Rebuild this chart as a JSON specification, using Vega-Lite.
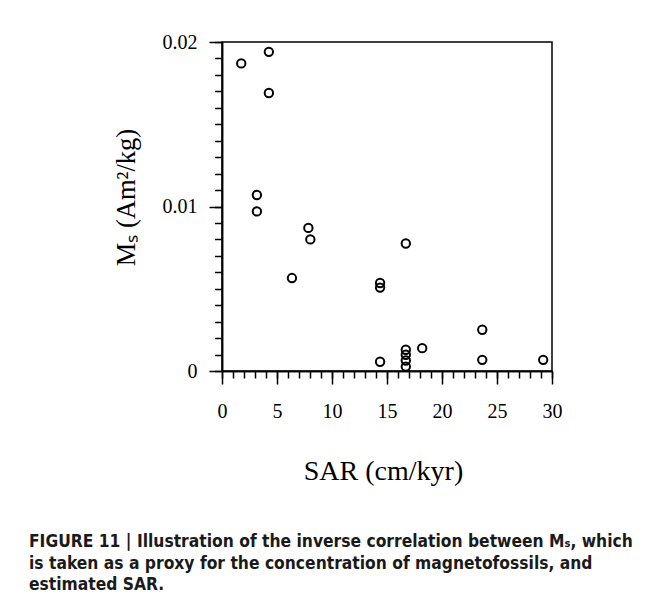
{
  "$schema": "https://vega.github.io/schema/vega-lite/v6.json",
  "width": 330,
  "height": 329,
  "autosize": {"type": "none"},
  "padding": {"left": 222, "top": 42, "right": 105, "bottom": 231},
  "background": "white",
  "config": {
    "view": {"stroke": "black", "strokeWidth": 1.5},
    "font": "Liberation Serif",
    "axis": {
      "grid": false,
      "domainColor": "black",
      "domainWidth": 1.5,
      "tickColor": "black",
      "tickWidth": 1.5,
      "labelFont": "Liberation Serif",
      "labelFontSize": 20,
      "labelColor": "black",
      "labelFlush": false,
      "labelOverlap": false,
      "titleFont": "Liberation Serif",
      "titleFontWeight": "normal",
      "titleColor": "black"
    }
  },
  "title": {
    "text": [
      "FIGURE 11 | Illustration of the inverse correlation between Mₛ, which",
      "is taken as a proxy for the concentration of magnetofossils, and",
      "estimated SAR."
    ],
    "orient": "bottom",
    "anchor": "start",
    "frame": "group",
    "dx": -193,
    "offset": 48,
    "font": "Liberation Sans Narrow, DejaVu Sans Condensed, Roboto Condensed, Arial Narrow, Liberation Sans",
    "fontSize": 17.3,
    "fontWeight": "bold",
    "lineHeight": 21.5,
    "color": "#1a1a1a"
  },
  "data": {
    "values": [
      {"sar": 1.75, "ms": 0.0187},
      {"sar": 4.26, "ms": 0.0194},
      {"sar": 4.26, "ms": 0.0169},
      {"sar": 3.17, "ms": 0.0107},
      {"sar": 3.17, "ms": 0.0097},
      {"sar": 7.85, "ms": 0.0087},
      {"sar": 8.03, "ms": 0.0080},
      {"sar": 6.36, "ms": 0.00565},
      {"sar": 16.71, "ms": 0.00775},
      {"sar": 14.37, "ms": 0.00535},
      {"sar": 14.37, "ms": 0.00507},
      {"sar": 14.37, "ms": 0.00056},
      {"sar": 16.71, "ms": 0.00129},
      {"sar": 16.71, "ms": 0.00099},
      {"sar": 16.71, "ms": 0.00064},
      {"sar": 16.71, "ms": 0.00027},
      {"sar": 18.2, "ms": 0.00139},
      {"sar": 23.66, "ms": 0.00251},
      {"sar": 23.66, "ms": 0.00068},
      {"sar": 29.2, "ms": 0.00068}
    ]
  },
  "resolve": {"axis": {"x": "independent", "y": "independent"}},
  "layer": [
    {
      "mark": {
        "type": "point",
        "shape": "circle",
        "filled": false,
        "stroke": "black",
        "strokeWidth": 2,
        "size": 70,
        "opacity": 1
      },
      "encoding": {
        "x": {
          "field": "sar",
          "type": "quantitative",
          "scale": {"domain": [0, 30], "nice": false, "zero": false},
          "axis": {
            "orient": "bottom",
            "title": null,
            "labels": false,
            "values": [0,1,2,3,4,5,6,7,8,9,10,11,12,13,14,15,16,17,18,19,20,21,22,23,24,25,26,27,28,29,30],
            "tickSize": 7
          }
        },
        "y": {
          "field": "ms",
          "type": "quantitative",
          "scale": {"domain": [0, 0.02], "nice": false, "zero": false},
          "axis": {
            "orient": "left",
            "title": null,
            "labels": false,
            "values": [0,0.001,0.002,0.003,0.004,0.005,0.006,0.007,0.008,0.009,0.01,0.011,0.012,0.013,0.014,0.015,0.016,0.017,0.018,0.019,0.02],
            "tickSize": 7.5
          }
        }
      }
    },
    {
      "mark": {"type": "point", "opacity": 0},
      "encoding": {
        "x": {
          "field": "sar",
          "type": "quantitative",
          "axis": {
            "orient": "bottom",
            "title": "SAR (cm/kyr)",
            "values": [0, 5, 10, 15, 20, 25, 30],
            "tickSize": 13,
            "labelPadding": 17,
            "titleFontSize": 28,
            "titleX": 161,
            "titleY": 108,
            "titleBaseline": "alphabetic"
          }
        },
        "y": {
          "field": "ms",
          "type": "quantitative",
          "axis": {
            "orient": "left",
            "title": "Mₛ (Am²/kg)",
            "values": [0, 0.01, 0.02],
            "labelExpr": "datum.value == 0 ? '0' : format(datum.value, '.2f')",
            "tickSize": 13,
            "labelPadding": 12,
            "titleFontSize": 26.5,
            "titleX": -88,
            "titleY": 155,
            "titleBaseline": "alphabetic"
          }
        }
      }
    }
  ]
}
